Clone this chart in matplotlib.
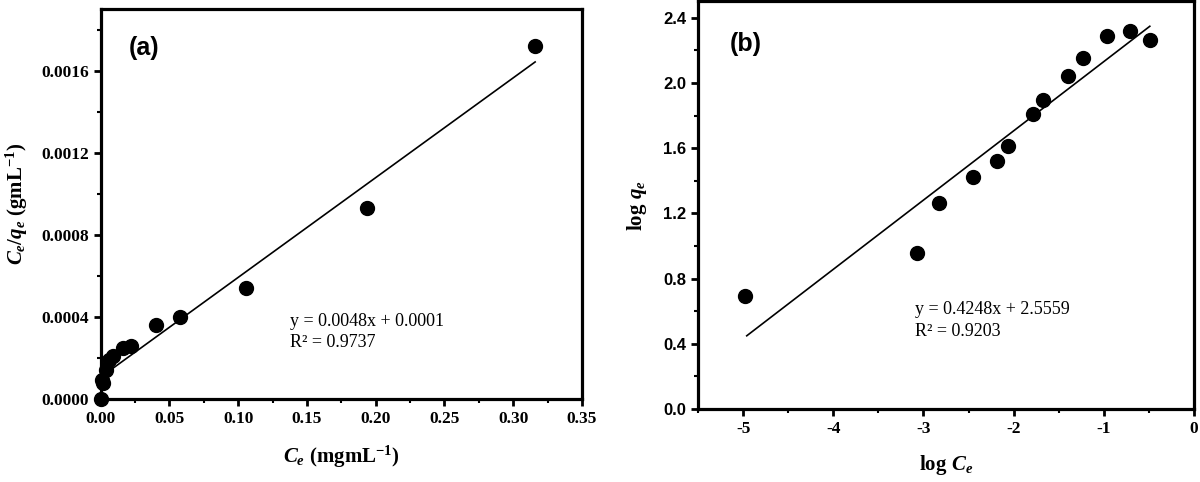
import numpy as np
import matplotlib
matplotlib.use("Agg")
import matplotlib.pyplot as plt
from matplotlib.ticker import MultipleLocator

plt.rcParams['font.family'] = 'Liberation Serif'
plt.rcParams['mathtext.fontset'] = 'custom'
plt.rcParams['mathtext.rm'] = 'Liberation Serif:bold'
plt.rcParams['mathtext.it'] = 'Liberation Serif:italic:bold'
plt.rcParams['mathtext.bf'] = 'Liberation Serif:bold'

# (a) Langmuir: Ce vs Ce/qe
ce_a = [0.0, 0.001, 0.0017, 0.0036, 0.0064, 0.009, 0.016, 0.022, 0.040, 0.058, 0.106, 0.194, 0.316]
ceqe_a = [0.0, 0.000092, 0.000078, 0.00014, 0.00019, 0.00021, 0.00025, 0.00026, 0.00036, 0.00040, 0.00054, 0.00093, 0.00172]
fit_a = (0.00486, 0.000107)
fit_a_x = [0.002, 0.316]

# (b) Freundlich: log Ce vs log qe
logce_b = [-4.98, -3.07, -2.83, -2.45, -2.19, -2.06, -1.79, -1.67, -1.40, -1.23, -0.97, -0.71, -0.49]
logqe_b = [0.696, 0.958, 1.264, 1.42, 1.522, 1.612, 1.807, 1.897, 2.04, 2.155, 2.29, 2.316, 2.265]
fit_b = (0.4248, 2.5559)
fit_b_x = [-4.96, -0.49]

fig = plt.figure(figsize=(12, 4.82), dpi=100)
ax1 = fig.add_axes([0.0839, 0.172, 0.401, 0.809])
ax2 = fig.add_axes([0.5817, 0.1515, 0.4133, 0.8455])


def style(ax):
    for s in ax.spines.values():
        s.set_linewidth(2.3)
    ax.tick_params(which='major', direction='out', length=5, width=2, top=False, right=False)
    ax.tick_params(which='minor', direction='out', length=3, width=1.5, top=False, right=False)


# panel a
ax1.plot(ce_a, ceqe_a, 'o', color='black', markersize=10, clip_on=False, zorder=3)
xa = np.array(fit_a_x)
ax1.plot(xa, fit_a[0] * xa + fit_a[1], color='black', lw=1.2)
ax1.set_xlim(0, 0.35)
ax1.set_ylim(0, 0.0019)
ax1.xaxis.set_major_locator(MultipleLocator(0.05))
ax1.xaxis.set_minor_locator(MultipleLocator(0.025))
ax1.yaxis.set_major_locator(MultipleLocator(0.0004))
ax1.yaxis.set_minor_locator(MultipleLocator(0.0002))
ax1.set_xticklabels(['%.2f' % v for v in ax1.get_xticks()])
ax1.set_yticks([0, 0.0004, 0.0008, 0.0012, 0.0016])
ax1.set_yticklabels(['0.0000', '0.0004', '0.0008', '0.0012', '0.0016'])
for lab in ax1.get_xticklabels() + ax1.get_yticklabels():
    lab.set_fontweight('bold')
    lab.set_fontsize(12.5)
style(ax1)
ax1.set_xlabel(r'$C_e\ \mathrm{(mgmL^{-1})}$', fontsize=15, labelpad=12)
ax1.set_ylabel(r'$C_e/q_e\ \mathrm{(gmL^{-1})}$', fontsize=15, labelpad=8)
ax1.text(0.1377, 0.00042, 'y = 0.0048x + 0.0001\nR² = 0.9737', fontsize=13,
         ha='left', va='top', linespacing=1.35)
ax1.text(0.0205, 0.00171, '(a)', fontsize=18, fontweight='bold', family='Liberation Sans',
         ha='left', va='center')

# panel b
ax2.plot(logce_b, logqe_b, 'o', color='black', markersize=10, zorder=3)
xb = np.array(fit_b_x)
ax2.plot(xb, fit_b[0] * xb + fit_b[1], color='black', lw=1.2)
ax2.set_xlim(-5.5, 0)
ax2.set_ylim(0, 2.5)
ax2.xaxis.set_major_locator(MultipleLocator(1))
ax2.xaxis.set_minor_locator(MultipleLocator(0.5))
ax2.yaxis.set_major_locator(MultipleLocator(0.4))
ax2.yaxis.set_minor_locator(MultipleLocator(0.2))
ax2.set_xticks([-5, -4, -3, -2, -1, 0])
ax2.set_xticklabels(['-5', '-4', '-3', '-2', '-1', '0'])
ax2.set_yticks([0, 0.4, 0.8, 1.2, 1.6, 2.0, 2.4])
ax2.set_yticklabels(['0.0', '0.4', '0.8', '1.2', '1.6', '2.0', '2.4'])
for lab in ax2.get_xticklabels():
    lab.set_fontweight('bold')
    lab.set_fontsize(12.5)
for lab in ax2.get_yticklabels():
    lab.set_fontweight('bold')
    lab.set_fontsize(12)
    lab.set_family('Liberation Sans')
style(ax2)
ax2.set_xlabel(r'$\mathrm{log}\ C_e$', fontsize=15, labelpad=12)
ax2.set_ylabel(r'$\mathrm{log}\ q_e$', fontsize=15, labelpad=10)
ax2.text(-3.09, 0.66, 'y = 0.4248x + 2.5559\nR² = 0.9203', fontsize=13,
         ha='left', va='top', linespacing=1.35)
ax2.text(-5.15, 2.24, '(b)', fontsize=18, fontweight='bold', family='Liberation Sans',
         ha='left', va='center')

fig.savefig('out.png', dpi=100)
